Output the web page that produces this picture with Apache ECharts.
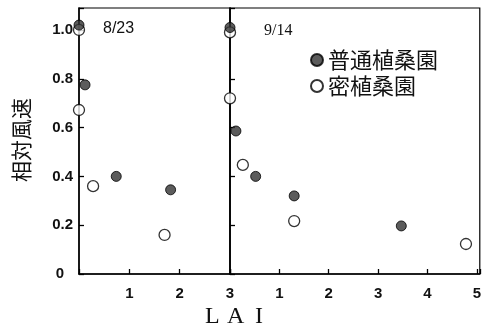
<!DOCTYPE html>
<html><head><meta charset="utf-8">
<script src="https://cdn.jsdelivr.net/npm/echarts@6/dist/echarts.min.js"></script>
<style>html,body{margin:0;padding:0;background:#fff}#c{width:484px;height:330px}</style>
</head><body><div id="c"></div>
<script>
// Panel 8/23
const leftNormalX = [0, 0.12, 0.74, 1.82];
const leftNormalY = [1.02, 0.775, 0.40, 0.345];
const leftDenseX = [0, 0, 0.28, 1.70];
const leftDenseY = [1.00, 0.672, 0.36, 0.16];
// Panel 9/14
const rightNormalX = [0, 0.12, 0.52, 1.30, 3.47];
const rightNormalY = [1.01, 0.586, 0.40, 0.32, 0.197];
const rightDenseX = [0, 0, 0.26, 1.30, 4.78];
const rightDenseY = [0.99, 0.72, 0.447, 0.217, 0.123];
const yTicks = ['0', '0.2', '0.4', '0.6', '0.8', '1.0'];
const seriesNames = ['普通植桑園', '密植桑園'];
const panelLabels = ['8/23', '9/14'];

const zip = (xs, ys) => xs.map((x, i) => [x, ys[i]]);
const chart = echarts.init(document.getElementById('c'));
const tickFont = {color: '#111', fontSize: 15, fontWeight: 'bold', fontFamily: 'Liberation Sans, Arial, sans-serif'};
const normalStyle = {color: '#333', borderColor: '#000', borderWidth: 1};
const denseStyle = {color: '#fff', borderColor: '#000', borderWidth: 1.3};
const axLine = {lineStyle: {color: '#000', width: 1.5}};

chart.setOption({
  animation: false,
  grid: [
    {left: 79, width: 151, top: 8, bottom: 56, show: true, borderColor: '#000', borderWidth: 1.2},
    {left: 230, right: 1, top: 8, bottom: 56, show: true, borderColor: '#000', borderWidth: 1.2}
  ],
  legend: {
    orient: 'vertical', left: 305, top: 44, itemGap: 4, itemWidth: 12, itemHeight: 12,
    icon: 'circle',
    textStyle: {fontSize: 22, color: '#111', fontFamily: 'Noto Sans CJK JP'},
    data: seriesNames
  },
  xAxis: [
    {gridIndex: 0, type: 'value', min: 0, max: 3, interval: 1, axisLine: axLine,
     axisTick: {inside: true, length: 5, lineStyle: {color: '#000', width: 1.3}},
     axisLabel: Object.assign({margin: 12, formatter: v => v === 0 ? '' : String(v)}, tickFont),
     splitLine: {show: false}},
    {gridIndex: 1, type: 'value', min: 0, max: 5.06, interval: 1, axisLine: axLine,
     axisTick: {inside: true, length: 5, lineStyle: {color: '#000', width: 1.3}},
     axisLabel: Object.assign({margin: 12, formatter: v => (v === 0 || v > 5.01) ? '' : String(v)}, tickFont),
     splitLine: {show: false}}
  ],
  yAxis: [
    {gridIndex: 0, type: 'value', min: 0, max: 1.09, interval: 0.2, axisLine: axLine,
     axisTick: {inside: true, length: 5, lineStyle: {color: '#000', width: 1.3}},
     axisLabel: Object.assign({margin: 6, formatter: v => {
       if (v > 1.01) return '';
       const i = Math.round(v / 0.2);
       return i === 0 ? '{z|0}' : yTicks[i]; },
       rich: {z: {padding: [0, 9, 0, 0], fontSize: 15, fontWeight: 'bold', fontFamily: 'Liberation Sans, Arial, sans-serif', color: '#111'}}}, tickFont),
     splitLine: {show: false}},
    {gridIndex: 1, type: 'value', min: 0, max: 1.09, interval: 0.2, axisLine: axLine,
     axisTick: {inside: true, length: 5, lineStyle: {color: '#000', width: 1.3}},
     axisLabel: {show: false}, splitLine: {show: false}}
  ],
  series: [
    {name: seriesNames[1], type: 'scatter', xAxisIndex: 0, yAxisIndex: 0, symbolSize: 11, itemStyle: denseStyle, data: zip(leftDenseX, leftDenseY), clip: false},
    {name: seriesNames[0], type: 'scatter', xAxisIndex: 0, yAxisIndex: 0, symbolSize: 10, itemStyle: normalStyle, data: zip(leftNormalX, leftNormalY), clip: false},
    {name: seriesNames[1], type: 'scatter', xAxisIndex: 1, yAxisIndex: 1, symbolSize: 11, itemStyle: denseStyle, data: zip(rightDenseX, rightDenseY), clip: false},
    {name: seriesNames[0], type: 'scatter', xAxisIndex: 1, yAxisIndex: 1, symbolSize: 10, itemStyle: normalStyle, data: zip(rightNormalX, rightNormalY), clip: false}
  ],
  graphic: [
    {type: 'text', left: 103, top: 21, style: {text: panelLabels[0], fontSize: 16, fill: '#111', fontFamily: 'Liberation Sans, Arial'}},
    {type: 'text', left: 264, top: 23, style: {text: panelLabels[1], fontSize: 16, fill: '#111', fontFamily: 'Liberation Serif, serif'}},
    {type: 'text', x: 21, y: 140, rotation: Math.PI / 2, style: {text: '相対風速', fontSize: 21, fill: '#111', fontFamily: 'Noto Sans CJK JP', align: 'center', verticalAlign: 'middle'}},
    {type: 'text', left: 205, top: 305, style: {text: 'L', fontSize: 24, fill: '#111', fontFamily: 'Liberation Serif, serif'}},
    {type: 'text', left: 227, top: 305, style: {text: 'A', fontSize: 24, fill: '#111', fontFamily: 'Liberation Serif, serif'}},
    {type: 'text', left: 255, top: 305, style: {text: 'I', fontSize: 24, fill: '#111', fontFamily: 'Liberation Serif, serif'}}
  ]
});
</script></body></html>
